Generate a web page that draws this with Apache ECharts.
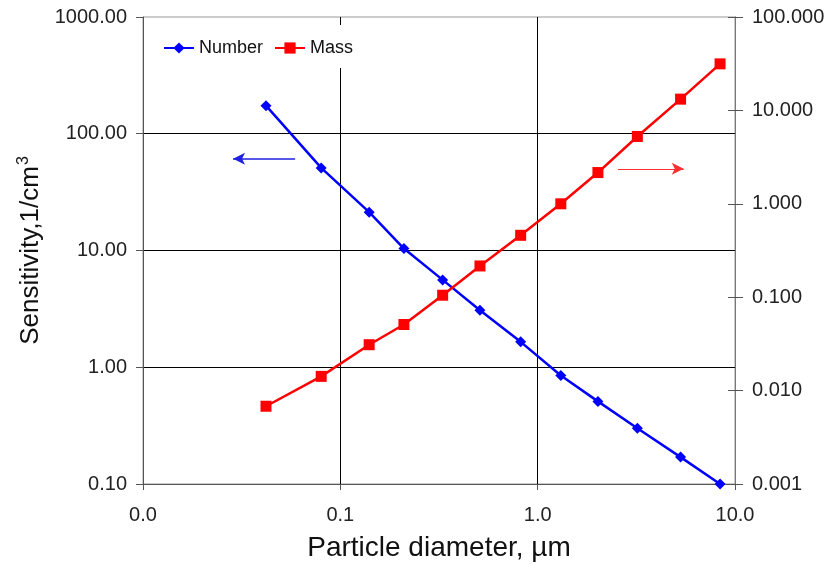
<!DOCTYPE html>
<html>
<head>
<meta charset="utf-8">
<script src="https://cdn.jsdelivr.net/npm/echarts@6/dist/echarts.min.js"></script>
<style>html,body{margin:0;padding:0;background:#fff;}#c{width:829px;height:565px;}</style>
</head>
<body>
<div id="c"></div>
<script>
const diameters = [0.042, 0.08, 0.14, 0.21, 0.33, 0.51, 0.82, 1.31, 2.02, 3.2, 5.3, 8.4];
const numberSens = [174, 51, 21.3, 10.4, 5.6, 3.08, 1.65, 0.85, 0.51, 0.30, 0.17, 0.10];
const massSens = [0.0068, 0.0142, 0.031, 0.051, 0.105, 0.216, 0.46, 1.0, 2.16, 5.26, 13.2, 31.5];
const seriesNames = ['Number', 'Mass'];
const xTitle = 'Particle diameter, µm';
const yTitleMain = 'Sensitivity,1/cm';
const yTitleSup = '3';
// annotation arrows (data space): [from, to]
const numberArrow = [[0.059, 61], [0.0286, 61]];
const massArrow = [[2.55, 2.37], [5.5, 2.37]];

const FONT = 'Liberation Sans, Arial, sans-serif';
const chart = echarts.init(document.getElementById('c'));
const pairs = (ys) => diameters.map((x, i) => [x, ys[i]]);

chart.setOption({
  animation: false,
  backgroundColor: '#fff',
  textStyle: { fontFamily: FONT },
  grid: { left: 143, right: 94, top: 17, bottom: 81, containLabel: false, outerBoundsMode: 'none', show: true, borderColor: '#999', borderWidth: 1, backgroundColor: 'transparent' },
  legend: {
    data: seriesNames,
    left: 153, top: 25,
    padding: [14, 10, 11, 10],
    backgroundColor: '#fff',
    itemWidth: 30, itemHeight: 14, itemGap: 11,
    textStyle: { fontSize: 18, color: '#111', fontFamily: FONT }
  },
  xAxis: {
    type: 'log', logBase: 10, min: 0.01, max: 10,
    name: xTitle, nameLocation: 'middle', nameGap: 50,
    nameTextStyle: { fontSize: 28, color: '#111', fontFamily: FONT },
    axisLine: { show: true, lineStyle: { color: '#555', width: 1 } },
    axisTick: { show: true, length: 6, lineStyle: { color: '#555' } },
    axisLabel: { fontSize: 20, color: '#222', margin: 21, formatter: v => Number(v).toFixed(1) },
    splitLine: { show: true, showMinLine: false, showMaxLine: false, lineStyle: { color: '#000', width: 1 } },
    minorTick: { show: false }, minorSplitLine: { show: false }
  },
  yAxis: [
    {
      type: 'log', logBase: 10, min: 0.1, max: 1000, interval: 1, position: 'left',
      name: '{a|' + yTitleMain + '}{b|' + yTitleSup + '}',
      nameLocation: 'middle', nameGap: 94, nameRotate: 90,
      nameTextStyle: {
        color: '#111', fontFamily: FONT,
        rich: {
          a: { fontSize: 26, color: '#111', fontFamily: FONT, lineHeight: 30 },
          b: { fontSize: 16, color: '#111', fontFamily: FONT, verticalAlign: 'top', lineHeight: 30, padding: [0, 0, 10, 1] }
        }
      },
      axisLine: { show: true, lineStyle: { color: '#555', width: 1 } },
      axisTick: { show: true, length: 7, lineStyle: { color: '#555' } },
      axisLabel: { fontSize: 20, color: '#222', margin: 16, formatter: v => Number(v).toFixed(2) },
      splitLine: { show: true, showMinLine: false, showMaxLine: false, lineStyle: { color: '#000', width: 1 } }
    },
    {
      type: 'log', logBase: 10, min: 0.001, max: 100, interval: 1, position: 'right',
      axisLine: { show: true, lineStyle: { color: '#777', width: 1 } },
      axisTick: { show: true, length: 8, lineStyle: { color: '#555' } },
      axisLabel: { fontSize: 20, color: '#222', margin: 17, formatter: v => Number(v).toFixed(3) },
      splitLine: { show: false }
    },
    {
      type: 'log', logBase: 10, min: 0.001, max: 100, interval: 1, position: 'right',
      axisLine: { show: true, lineStyle: { color: '#777', width: 1 } },
      axisTick: { show: true, inside: true, length: 7, lineStyle: { color: '#555' } },
      axisLabel: { show: false },
      splitLine: { show: false }
    }
  ],
  series: [
    {
      name: seriesNames[0], type: 'line', yAxisIndex: 0, clip: false,
      data: pairs(numberSens),
      symbol: 'diamond', symbolSize: 11,
      lineStyle: { color: '#0000ff', width: 2.5 },
      itemStyle: { color: '#0000ff' },
      z: 3,
      markLine: {
        silent: true, animation: false,
        symbol: ['none', 'arrow'], symbolSize: [9, 12],
        label: { show: false },
        lineStyle: { color: '#2020e0', width: 1.5, type: 'solid' },
        data: [[{ coord: numberArrow[0] }, { coord: numberArrow[1] }]]
      }
    },
    {
      name: seriesNames[1], type: 'line', yAxisIndex: 1, clip: false,
      data: pairs(massSens),
      symbol: 'rect', symbolSize: 11,
      lineStyle: { color: '#ff0000', width: 2.5 },
      itemStyle: { color: '#ff0000' },
      z: 3,
      markLine: {
        silent: true, animation: false,
        symbol: ['none', 'arrow'], symbolSize: [9, 12],
        label: { show: false },
        lineStyle: { color: '#ff3030', width: 1.2, type: 'solid' },
        data: [[{ coord: massArrow[0] }, { coord: massArrow[1] }]]
      }
    }
  ]
});
</script>
</body>
</html>
